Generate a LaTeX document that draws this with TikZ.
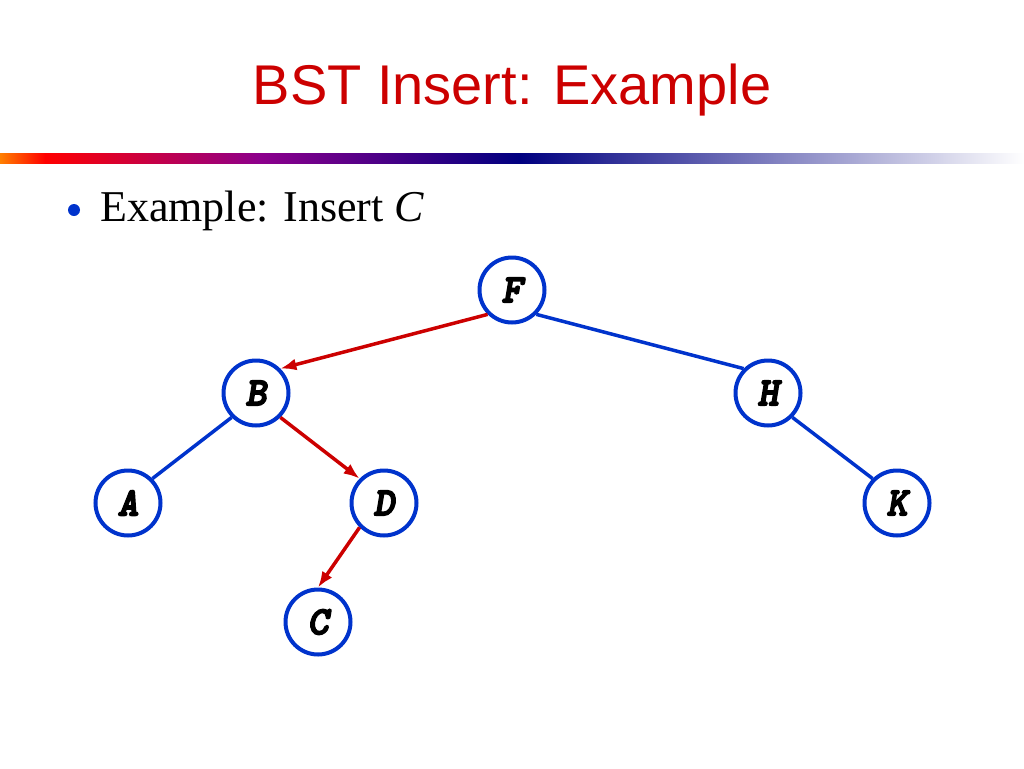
\documentclass[tikz,border=0pt]{standalone}
\usepackage{fontspec}
\usetikzlibrary{arrows.meta}
\setmainfont{Liberation Serif}
\newfontfamily\titlefont{Liberation Sans}
\newfontfamily\keyfont{lmmonolt10-boldoblique}[Extension = .otf, FakeBold = 4]
\definecolor{slidered}{RGB}{204,0,0}
\definecolor{treeblue}{RGB}{0,51,204}
\definecolor{barnavy}{RGB}{0,0,128}
\begin{document}
\begin{tikzpicture}[>={Latex[length = 16pt, width = 12pt]}, x=1pt, y=-1pt]
    \useasboundingbox (0, 0) rectangle (1024, 768);

    \tikzstyle{key} = [circle, draw = treeblue, line width = 4pt, fill = white, inner sep = 0pt, minimum size = 65pt, font = \keyfont\fontsize{40}{40}\selectfont]
    \tikzstyle{edge} = [treeblue, line width = 3.5pt]
    \tikzstyle{path} = [->, slidered, line width = 3.5pt]

    % title and bar
    \node[text = slidered, font = \titlefont\fontsize{56}{56}\selectfont, anchor = base] (title) at (512, 104) {BST Insert: Example};
    \shade[left color = orange, right color = red] (0, 153) rectangle (45, 163);
    \shade[left color = red, right color = {rgb,1:red,0.55;green,0;blue,0.55}] (45, 153) rectangle (260, 163);
    \shade[left color = {rgb,1:red,0.55;green,0;blue,0.55}, right color = barnavy] (260, 153) rectangle (520, 163);
    \shade[left color = barnavy, right color = white] (520, 153) rectangle (1024, 163);

    \fill[treeblue] (74, 210) circle (6);
    \node[anchor = base west, inner sep = 0pt, font = \fontsize{44}{44}\selectfont] (task) at (100, 221) {Example: Insert \textit{C}};

    % tree
    \node[key] (f) at (512, 290) {F};
    \node[key] (b) at (256, 393) {B};
    \node[key] (h) at (768, 393) {H};
    \node[key] (a) at (128, 503) {A};
    \node[key] (d) at (384, 503) {D};
    \node[key] (k) at (897, 503) {K};
    \node[key] (c) at (318, 622) {C};

    \draw[edge] (f.south east) -- (h.north west);
    \draw[edge] (b.south west) -- (a.north east);
    \draw[edge] (h.south east) -- (k.north west);
    \draw[path] (f.south west) -- (b.north east);
    \draw[path] (b.south east) -- (d.north west);
    \draw[path] (d.south west) -- (c.north);
\end{tikzpicture}
\end{document}
